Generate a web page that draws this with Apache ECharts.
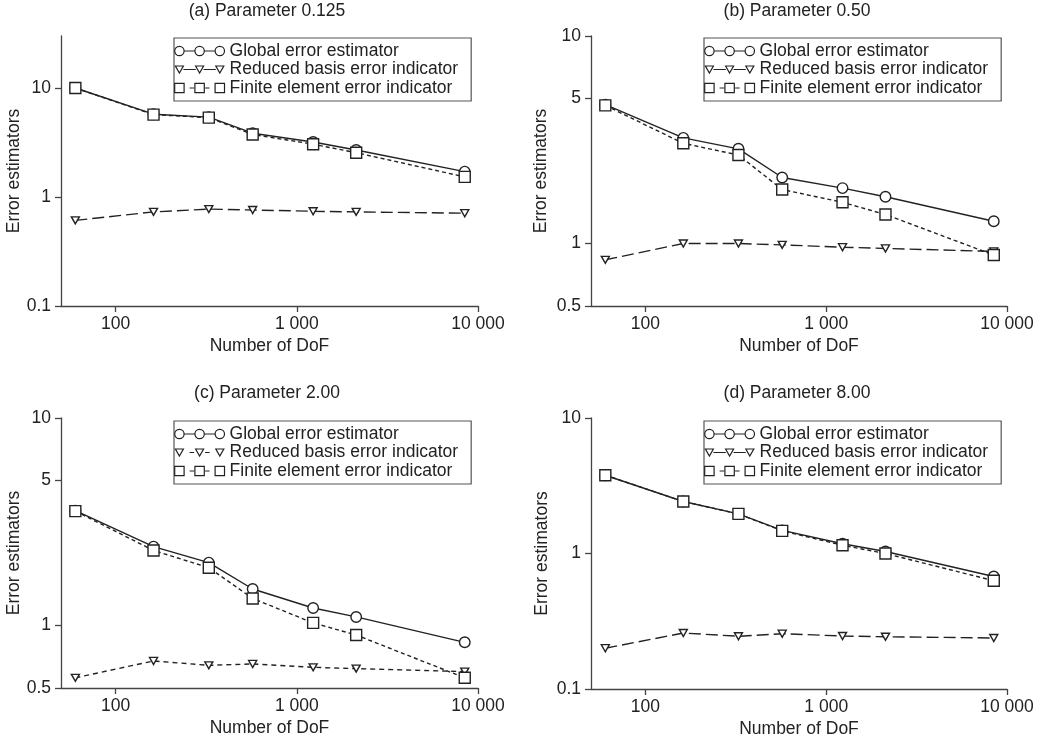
<!DOCTYPE html>
<html><head><meta charset="utf-8">
<script src="https://cdn.jsdelivr.net/npm/echarts@6/dist/echarts.min.js"></script>
<style>html,body{margin:0;padding:0;background:#fff}#c{width:1044px;height:742px}</style>
</head><body><div id="c"></div>
<script>
const dof = [60, 162, 327, 571, 1231, 2127, 8450];
const titles = ['(a) Parameter 0.125', '(b) Parameter 0.50', '(c) Parameter 2.00', '(d) Parameter 8.00'];
const seriesNames = ['Global error estimator', 'Reduced basis error indicator', 'Finite element error indicator'];
const globalA = [10, 5.75, 5.4, 3.85, 3.2, 2.7, 1.71];
const rbA = [0.61, 0.73, 0.775, 0.76, 0.74, 0.73, 0.71];
const feA = [10, 5.7, 5.35, 3.75, 3.05, 2.55, 1.53];
const globalB = [4.67, 3.23, 2.86, 2.08, 1.85, 1.68, 1.28];
const rbB = [0.835, 1.0, 1.0, 0.985, 0.96, 0.947, 0.916];
const feB = [4.63, 3.04, 2.67, 1.82, 1.58, 1.38, 0.88];
const globalC = [3.58, 2.4, 2.01, 1.5, 1.215, 1.10, 0.83];
const rbC = [0.56, 0.675, 0.643, 0.653, 0.629, 0.62, 0.60];
const feC = [3.56, 2.3, 1.9, 1.35, 1.03, 0.90, 0.56];
const globalD = [3.78, 2.42, 1.96, 1.48, 1.18, 1.035, 0.676];
const rbD = [0.2, 0.259, 0.245, 0.256, 0.246, 0.243, 0.238];
const feD = [3.78, 2.42, 1.96, 1.47, 1.15, 1.0, 0.63];
const xTickValues = [100, 1000, 10000];
const xTickLabels = ['100', '1 000', '10 000'];
const yTicksAD = [0.1, 1, 10];
const yTickLabelsAD = ['0.1', '1', '10'];
const yTicksBC = [0.5, 1, 5, 10];
const yTickLabelsBC = ['0.5', '1', '5', '10'];

const panels = [
  {g: globalA, rb: rbA, fe: feA, ymin: 0.1, ymax: 30, yt: yTicksAD, yl: yTickLabelsAD, rbDash: [12, 5], rbIcon: 'solid',
   grid: {left: 61, top: 36, width: 417, height: 270}, nameGap: 34, legend: {left: 174, top: 38}, title: {x: 267, y: 2}},
  {g: globalB, rb: rbB, fe: feB, ymin: 0.5, ymax: 10, yt: yTicksBC, yl: yTickLabelsBC, rbDash: [12, 5], rbIcon: 'solid',
   grid: {left: 591, top: 36, width: 416, height: 270}, nameGap: 41, legend: {left: 704, top: 38}, title: {x: 797, y: 2}},
  {g: globalC, rb: rbC, fe: feC, ymin: 0.5, ymax: 10, yt: yTicksBC, yl: yTickLabelsBC, rbDash: [5, 4], rbIcon: 'dash',
   grid: {left: 61, top: 418, width: 417, height: 270}, nameGap: 34, legend: {left: 174, top: 421}, title: {x: 267, y: 384}},
  {g: globalD, rb: rbD, fe: feD, ymin: 0.1, ymax: 10, yt: yTicksAD, yl: yTickLabelsAD, rbDash: [12, 5], rbIcon: 'solid',
   grid: {left: 591, top: 418, width: 416, height: 271}, nameGap: 40, legend: {left: 704, top: 421}, title: {x: 797, y: 384}}
];

const INK = '#222';
const FONT = 'Liberation Sans';
const FS = 17.5;

// legend icon paths (geometry only)
const IW = 50, IH = 14, CY = 7, MX = [4.8, 25, 45.2];
function circ(cx, r) { return `M${cx - r} ${CY} A${r} ${r} 0 1 0 ${cx + r} ${CY} A${r} ${r} 0 1 0 ${cx - r} ${CY} Z `; }
function tri(cx) { return `M${cx - 4} ${CY - 3.5} L${cx + 4} ${CY - 3.5} L${cx} ${CY + 3.5} Z `; }
function sq(cx) { return `M${cx - 4.7} ${CY - 4.7} L${cx + 4.7} ${CY - 4.7} L${cx + 4.7} ${CY + 4.7} L${cx - 4.7} ${CY + 4.7} Z `; }
function seg(a, b) { return `M${a} ${CY} L${b} ${CY} `; }
const corners = `M0 0 M${IW} ${IH} `;
const iconGlobal = 'path://' + corners + circ(MX[0], 4.7) + seg(9.5, 20.3) + circ(MX[1], 4.7) + seg(29.7, 40.5) + circ(MX[2], 4.7);
const iconRbSolid = 'path://' + corners + tri(MX[0]) + seg(8.8, 21.2) + tri(MX[1]) + seg(29, 41.2) + tri(MX[2]);
const iconRbDash = 'path://' + corners + tri(MX[0]) + seg(15, 19.5) + tri(MX[1]) + seg(30.5, 35) + tri(MX[2]);
const iconFe = 'path://' + corners + sq(MX[0]) + seg(15, 19.5) + sq(MX[1]) + seg(30.5, 35) + sq(MX[2]);

const option = {animation: false, backgroundColor: '#fff', title: [], grid: [], xAxis: [], yAxis: [], legend: [], series: []};

panels.forEach((p, i) => {
  option.title.push({text: titles[i], left: p.title.x, top: p.title.y, textAlign: 'center', padding: 0,
    textStyle: {fontFamily: FONT, fontSize: FS, fontWeight: 'normal', color: INK}});
  option.grid.push(Object.assign({outerBoundsMode: 'none', containLabel: false}, p.grid));
  option.xAxis.push({type: 'log', logBase: 10, gridIndex: i, min: 50, max: 10000,
    name: 'Number of DoF', nameLocation: 'middle', nameGap: 31,
    nameTextStyle: {fontFamily: FONT, fontSize: FS, color: INK},
    axisLine: {show: true, onZero: false, lineStyle: {color: '#444', width: 1.3}},
    axisTick: {show: true, inside: false, length: 6, customValues: xTickValues, lineStyle: {color: '#444', width: 1.3}},
    axisLabel: {customValues: xTickValues, margin: 9, fontFamily: FONT, fontSize: FS, color: INK,
      formatter: v => { const k = xTickValues.findIndex(t => Math.abs(t - v) / t < 1e-6); return k >= 0 ? xTickLabels[k] : ''; }},
    splitLine: {show: false}, minorTick: {show: false}, minorSplitLine: {show: false}});
  option.yAxis.push({type: 'log', logBase: 10, gridIndex: i, min: p.ymin, max: p.ymax,
    name: 'Error estimators', nameLocation: 'middle', nameGap: p.nameGap,
    nameTextStyle: {fontFamily: FONT, fontSize: FS, color: INK},
    axisLine: {show: true, onZero: false, lineStyle: {color: '#444', width: 1.3}},
    axisTick: {show: true, inside: false, length: 6, customValues: p.yt, lineStyle: {color: '#444', width: 1.3}},
    axisLabel: {customValues: p.yt, margin: 10, fontFamily: FONT, fontSize: FS, color: INK,
      formatter: v => { const k = p.yt.findIndex(t => Math.abs(t - v) / t < 1e-6); return k >= 0 ? p.yl[k] : ''; }},
    splitLine: {show: false}, minorTick: {show: false}, minorSplitLine: {show: false}});
  option.legend.push({orient: 'vertical', left: p.legend.left, top: p.legend.top,
    itemWidth: IW, itemHeight: IH, itemGap: 0.5, padding: [4, 13, 4, 0], symbolKeepAspect: false,
    borderColor: '#555', borderWidth: 1.2, borderRadius: 0, backgroundColor: '#fff', selectedMode: false,
    itemStyle: {color: '#fff', borderColor: INK, borderWidth: 1.2},
    textStyle: {fontFamily: FONT, fontSize: FS, color: INK, padding: 0},
    data: [
      {name: seriesNames[0], icon: iconGlobal},
      {name: seriesNames[1], icon: p.rbIcon === 'solid' ? iconRbSolid : iconRbDash},
      {name: seriesNames[2], icon: iconFe}
    ]});
  const common = {type: 'line', xAxisIndex: i, yAxisIndex: i, emphasis: {disabled: true}, silent: true,
    itemStyle: {color: '#fff', borderColor: INK, borderWidth: 1.4}};
  option.series.push(Object.assign({}, common, {name: seriesNames[0], symbol: 'circle', symbolSize: 10.5,
    lineStyle: {color: INK, width: 1.4, type: 'solid'}, data: dof.map((x, k) => [x, p.g[k]])}));
  option.series.push(Object.assign({}, common, {name: seriesNames[1], symbol: 'triangle', symbolSize: [8, 7], symbolRotate: 180,
    lineStyle: {color: INK, width: 1.4, type: p.rbDash}, data: dof.map((x, k) => [x, p.rb[k]])}));
  option.series.push(Object.assign({}, common, {name: seriesNames[2], symbol: 'rect', symbolSize: 11,
    lineStyle: {color: INK, width: 1.4, type: [4, 3]}, data: dof.map((x, k) => [x, p.fe[k]])}));
});

const chart = echarts.init(document.getElementById('c'), null, {renderer: 'canvas'});
chart.setOption(option);
</script>
</body></html>
